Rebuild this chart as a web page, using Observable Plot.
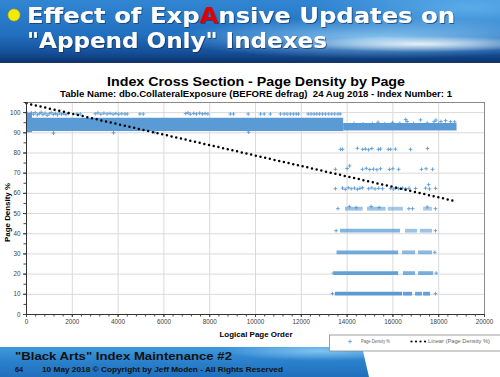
<!DOCTYPE html>
<html><head><meta charset="utf-8">
<script src="https://cdn.jsdelivr.net/npm/d3@7"></script>
<script src="https://cdn.jsdelivr.net/npm/@observablehq/plot@0.6"></script>
<style>
body{margin:0;background:#fff;}
#slide{position:relative;width:500px;height:377px;overflow:hidden;background:#fff;font-family:"Liberation Sans",Arial,sans-serif;}
#header{position:absolute;left:0;top:0;width:500px;height:62px;
 background:
  radial-gradient(ellipse 150px 10px at 420px 44px, rgba(255,255,255,0.85), rgba(255,255,255,0) 80%),
  radial-gradient(ellipse 260px 26px at 380px 38px, rgba(170,225,255,0.75), rgba(170,225,255,0) 80%),
  radial-gradient(ellipse 200px 40px at 470px 8px, rgba(120,200,250,0.6), rgba(120,200,250,0) 80%),
  linear-gradient(180deg,#3186d2 0%,#2270c0 55%,#154f98 85%,#0c3570 100%);
 border-bottom:1px solid #18365e;}
#chart{position:absolute;left:0;top:62px;}
#footer{position:absolute;left:0;top:347px;width:370px;height:30px;
 clip-path:polygon(0 0,362px 0,369px 30px,0 30px);
 background:
  radial-gradient(ellipse 120px 12px at 320px 4px, rgba(160,215,250,0.7), rgba(160,215,250,0) 80%),
  linear-gradient(180deg,#3f98dc 0%,#2a80cb 50%,#1f6fbc 100%);}
#overlay{position:absolute;left:0;top:0;pointer-events:none;}
</style></head>
<body>
<div id="slide">
  <div id="header"></div>
  <div id="chart"></div>
  <div id="footer"></div>
  <svg id="overlay" width="500" height="377" font-family="Liberation Sans, Arial, sans-serif">
    <defs>
      <filter id="sh" x="-5%" y="-20%" width="110%" height="150%">
        <feDropShadow dx="1" dy="1" stdDeviation="0.6" flood-color="#0a2550" flood-opacity="0.6"/>
      </filter>
    </defs>
    <circle cx="14" cy="15" r="6" fill="#f4ec00" stroke="#c8b800" stroke-width="0.6"/>
    <g font-family="DejaVu Sans, Verdana, sans-serif" font-size="20.5" font-weight="bold" filter="url(#sh)">
      <text x="27" y="22.8" fill="#fff" textLength="428" lengthAdjust="spacingAndGlyphs">Effect of Exp<tspan fill="#e00000">A</tspan>nsive Updates on</text>
      <text x="27" y="47.7" fill="#fff" textLength="300" lengthAdjust="spacingAndGlyphs">"Append Only" Indexes</text>
    </g>
    <text x="256" y="86" text-anchor="middle" font-size="13.5" font-weight="bold" fill="#000" textLength="298" lengthAdjust="spacingAndGlyphs">Index Cross Section - Page Density by Page</text>
    <text x="256" y="96.7" text-anchor="middle" font-size="8.8" font-weight="bold" fill="#000" xml:space="preserve" textLength="392" lengthAdjust="spacingAndGlyphs">Table Name: dbo.CollateralExposure (BEFORE defrag)  24 Aug 2018 - Index Number: 1</text>
    <text x="256" y="336.8" text-anchor="middle" font-size="7.8" font-weight="bold" fill="#000" textLength="73" lengthAdjust="spacingAndGlyphs">Logical Page Order</text>
    <text transform="translate(9.5,212.5) rotate(-90)" text-anchor="middle" font-size="7.8" font-weight="bold" fill="#000" textLength="59" lengthAdjust="spacingAndGlyphs">Page Density %</text>
    <g>
      <rect x="329.5" y="335" width="175" height="16" fill="#fff" stroke="#888" stroke-width="0.8"/>
      <path d="M348 341.5h4M350 339.5v4" stroke="#5B9BD5" stroke-width="0.8"/>
      <text x="361" y="343" font-size="5.5" fill="#666" textLength="29" lengthAdjust="spacingAndGlyphs">Page Density %</text>
      <circle cx="411.5" cy="341.5" r="1.1" fill="#000"/>
      <circle cx="416" cy="341.5" r="1.1" fill="#000"/>
      <circle cx="420.5" cy="341.5" r="1.1" fill="#000"/>
      <circle cx="425" cy="341.5" r="1.1" fill="#000"/>
      <text x="428" y="343" font-size="5.5" fill="#666" textLength="62" lengthAdjust="spacingAndGlyphs">Linear (Page Density %)</text>
    </g>
    <text x="15" y="359.5" font-size="11" font-weight="bold" fill="#111" textLength="217" lengthAdjust="spacingAndGlyphs">"Black Arts" Index Maintenance #2</text>
    <text x="15" y="371.8" font-size="7.3" font-weight="bold" fill="#111">64</text>
    <text x="42" y="371.8" font-size="7.3" font-weight="bold" fill="#111" textLength="241" lengthAdjust="spacingAndGlyphs">10 May 2018 © Copyright by Jeff Moden - All Rights Reserved</text>
  </svg>
</div>
<script>
// ---- Data ----
const xTicks = [0, 2000, 4000, 6000, 8000, 10000, 12000, 14000, 16000, 18000, 20000];
const yTicks = [0, 10, 20, 30, 40, 50, 60, 70, 80, 90, 100];

// Regions so densely covered by "+" markers that they read as solid bands
const denseBands = [
  {from: 0,     to: 260,   low: 90.0, high: 99.6},
  {from: 0,     to: 13850, low: 90.6, high: 97.2},
  {from: 13850, to: 18800, low: 90.9, high: 94.6}
];

// Dense rows of "+" markers at fixed fill levels (density, first page, last page, darkness)
const denseRows = [
  {density: 10.3, from: 13490, to: 16420, alpha: 1},
  {density: 10.3, from: 16460, to: 16860, alpha: 0.95},
  {density: 10.3, from: 16990, to: 17290, alpha: 0.9},
  {density: 10.3, from: 17340, to: 17640, alpha: 0.95},
  {density: 20.5, from: 13450, to: 16250, alpha: 0.95},
  {density: 20.5, from: 16460, to: 16990, alpha: 0.8},
  {density: 20.5, from: 17120, to: 17780, alpha: 0.8},
  {density: 30.8, from: 13560, to: 16250, alpha: 0.85},
  {density: 30.8, from: 16420, to: 16990, alpha: 0.7},
  {density: 30.8, from: 17120, to: 17730, alpha: 0.7},
  {density: 41.5, from: 13710, to: 16330, alpha: 0.75},
  {density: 41.5, from: 16550, to: 17080, alpha: 0.6},
  {density: 41.5, from: 17200, to: 17730, alpha: 0.6},
  {density: 52.4, from: 13930, to: 14700, alpha: 0.6},
  {density: 52.4, from: 14890, to: 15700, alpha: 0.6},
  {density: 52.4, from: 15800, to: 16460, alpha: 0.55},
  {density: 52.4, from: 17340, to: 17730, alpha: 0.5}
];

// Individual, readable "+" markers: [logical page, page density %]
const sparsePoints = [
  [40,99.6],[120,98.8],[210,99.9],[300,99.2],[380,100],[470,98.9],[560,99.5],[640,100.1],[720,99.0],[810,99.7],
  [900,98.7],[990,99.4],[1080,100],[1170,99.1],[1260,99.6],[1350,98.9],[1440,99.8],[1530,99.2],[1620,99.6],[1720,99.0],[1820,99.5],
  [2200,99.3],[2350,99.3],
  [3000,99.4],[3120,99.8],[3250,99.2],[3380,99.7],[3520,99.3],[3650,99.6],[3780,99.2],[3900,99.5],[4030,99.2],[4160,99.4],[4300,99.3],[4400,99.3],
  [4950,99.3],[5100,99.3],
  [6950,99.5],[7050,99.9],[7150,99.2],[7300,99.6],[7420,99.3],[7560,99.7],[7680,99.3],[7800,99.5],[7920,99.3],
  [8900,99.3],[9040,99.3],[9680,99.3],
  [10220,99.3],[10380,99.3],[10650,99.3],
  [11090,99.3],[11250,99.3],[11380,99.3],[11520,99.3],[11650,99.3],[11780,99.3],[11880,99.3],
  [12300,99.3],[12430,99.3],[12560,99.3],[12680,99.3],[12800,99.3],[12930,99.3],[13060,99.3],[13200,99.3],[13330,99.3],[13460,99.3],[13600,99.3],[13700,99.3],
  [1180,89.8],[3800,90.0],[5600,90.2],[9700,90.3],
  [14300,94.6],[14700,94.4],[15100,94.6],[15350,95.2],[15650,94.5],[15980,95.0],[16300,94.7],[16560,96.6],[16620,95.5],
  [16900,94.5],[17210,96.4],[17500,94.8],[17800,95.5],[17880,96.3],[18000,94.6],[18100,95.6],[18300,96.0],[18520,95.5],[18700,95.4],
  [13710,81.8],[13800,81.8],[14450,82.3],[14680,81.8],[14800,82.0],[14940,81.6],[15080,82.2],[15370,81.8],[15460,82.0],
  [15800,81.8],[15900,81.8],[16110,81.9],[16770,81.8],[17510,82.2],
  [13490,71.9],[14000,72.3],[14110,73.6],[14670,71.9],[14840,72.4],[14990,71.8],[15150,72.0],[15300,71.7],[15460,72.2],
  [15850,71.9],[16000,72.2],[16250,71.9],[17250,71.9],[17450,72.2],[17730,71.9],
  [13490,62.3],[13800,62.6],[13920,62.0],[14050,62.8],[14180,62.3],[14320,62.6],[14450,62.0],[14560,62.5],[14670,62.8],
  [14940,62.3],[15080,62.7],[15220,62.2],[15380,62.5],[15550,62.3],[15900,62.5],[16030,62.1],[16120,62.7],[16250,62.3],
  [16420,62.6],[16560,62.2],[16700,62.5],[16990,62.4],[17430,62.6],[17560,64.3],[17600,62.2],[17860,62.5],
  [13600,52.4],[14100,53.4],[14400,52.9],[15050,53.5],[15400,53.0],[16700,52.4],[16860,52.4],[17500,53.2],[17860,52.4],
  [13520,41.5],[17860,41.5],[17830,30.8],[13400,20.5],[17890,20.5],[13360,10.3],[17860,10.3]
];

// Excel linear trendline of Page Density %
const trendLine = [
  {page: 0, density: 104.6},
  {page: 18780, density: 56.0}
];

const blue = "#5B9BD5";

const chart = Plot.plot({
  width: 500,
  height: 285,
  marginLeft: 26,
  marginRight: 16,
  marginTop: 40,
  marginBottom: 33,
  style: {fontFamily: "Liberation Sans, Arial, sans-serif", background: "transparent"},
  x: {domain: [0, 20000]},
  y: {domain: [0, 105]},
  marks: [
    Plot.gridX(xTicks, {stroke: "#d9d9d9", strokeOpacity: 1}),
    Plot.gridY(yTicks, {stroke: "#d9d9d9", strokeOpacity: 1}),
    Plot.frame({stroke: "#8a8a8a"}),
    Plot.axisX(d3.range(0, 20001, 400), {tickSize: 2.5, text: null, stroke: "#444"}),
    Plot.axisX(xTicks, {tickSize: 3, tickPadding: 2.5, fontSize: 6.3, fill: "#404040", stroke: "#444", label: null, tickFormat: d => String(d)}),
    Plot.axisY(d3.range(0, 106, 5), {tickSize: 2.5, text: null, stroke: "#444"}),
    Plot.axisY(yTicks, {tickSize: 3, tickPadding: 3, fontSize: 6.3, fill: "#404040", stroke: "#444", label: null, tickFormat: d => String(d)}),
    Plot.rect(denseBands, {x1: "from", x2: "to", y1: "low", y2: "high", fill: blue}),
    Plot.ruleY(denseRows, {y: "density", x1: "from", x2: "to", stroke: blue, strokeWidth: 3.8, strokeOpacity: "alpha"}),
    Plot.dot(sparsePoints, {x: d => d[0], y: d => d[1], symbol: "plus", r: 1.3, stroke: blue, strokeWidth: 0.9}),
    Plot.line(trendLine, {x: "page", y: "density", stroke: "#000", strokeWidth: 2.5, strokeDasharray: "0,4.8", strokeLinecap: "round"}),
    Plot.ruleX([0], {stroke: "#333"}),
    Plot.ruleY([0], {stroke: "#333"})
  ]
});
document.getElementById("chart").appendChild(chart);
</script>
</body></html>
